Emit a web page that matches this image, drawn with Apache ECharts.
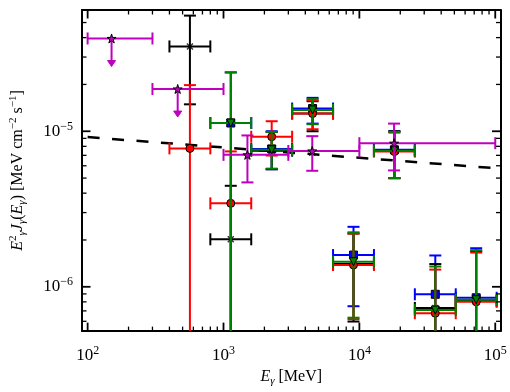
<!DOCTYPE html>
<html>
<head>
<meta charset="utf-8">
<script src="https://cdn.jsdelivr.net/npm/echarts@6/dist/echarts.min.js"></script>
<style>
  html, body { margin: 0; background: #fff; }
  #chart { width: 510px; height: 392px; }
</style>
</head>
<body>
<div id="chart"></div>
<script>
// energy bins (MeV) shared by the four coloured data sets
const binLo  = [400, 800, 1600, 3200, 6400, 12800, 25600, 51200];
const binHi  = [800, 1600, 3200, 6400, 12800, 25600, 51200, 102400];
const binMid = [566, 1131, 2263, 4525, 9051, 18102, 36204, 72408];

// E^2 J values, lower / upper ends of the error bars (0 = runs off the bottom)
const blackVal = [3.51e-5, 2.02e-6, 7.5e-6, 1.30e-5, 1.40e-6, 7.5e-6, 7.31e-7, 8.1e-7];
const blackLo  = [1.49e-5, 0, 5.7e-6, 1.0e-5, 5.98e-7, 5.0e-6, 0, 0];
const blackHi  = [5.54e-5, 4.46e-6, 9.9e-6, 1.56e-5, 2.2e-6, 1.0e-5, 1.40e-6, 1.69e-6];

const redVal = [7.76e-6, 3.44e-6, 9.22e-6, 1.30e-5, 1.38e-6, 7.4e-6, 6.76e-7, 8.0e-7];
const redLo  = [0, 0, 6.98e-6, 1.03e-5, 6.2e-7, 5.0e-6, 0, 0];
const redHi  = [1.98e-5, 7.42e-6, 1.16e-5, 1.58e-5, 2.2e-6, 9.8e-6, 1.29e-6, 1.66e-6];

const greenVal = [null, 1.13e-5, 7.6e-6, 1.37e-5, 1.45e-6, 7.5e-6, 7.08e-7, 8.26e-7];
const greenLo  = [0, 0, 5.75e-6, 1.11e-5, 6.33e-7, 5.0e-6, 0, 0];
const greenHi  = [0, 2.39e-5, 9.9e-6, 1.61e-5, 2.24e-6, 9.9e-6, 1.35e-6, 1.72e-6];

const blueVal = [null, 1.13e-5, 7.7e-6, 1.40e-5, 1.60e-6, 7.6e-6, 8.95e-7, 8.5e-7];
const blueLo  = [0, 0, 5.7e-6, 1.12e-5, 7.5e-7, 4.99e-6, 0, 0];
const blueHi  = [0, 2.39e-5, 1.0e-5, 1.64e-5, 2.43e-6, 1.0e-5, 1.59e-6, 1.77e-6];

// magenta points with their own binning, first two are upper limits
const magX   = [150, 460, 1500, 4500, 18000];
const magXLo = [100, 300, 1000, 3000, 10000];
const magXHi = [300, 1000, 3000, 10000, 100000];
const magVal = [3.95e-5, 1.87e-5, 7.05e-6, 7.47e-6, 8.38e-6];
const magLo  = [0, 0, 4.69e-6, 5.57e-6, 5.6e-6];
const magHi  = [0, 0, 9.4e-6, 9.3e-6, 1.12e-5];
const magUL  = [1, 1, 0, 0, 0];

// dashed power law
const fitX = [100, 100000];
const fitY = [9.17e-6, 5.79e-6];

// axes
const xMin = 90.9, xMax = 109300;
const yMin = 5.19e-7, yMax = 6.02e-5;
const xMajor = [100, 1000, 10000, 100000];
const yMajor = [1e-6, 1e-5];

const FONT = '"Liberation Serif", "DejaVu Serif", serif';
const CAP = 6;
const ARROW = 0.66;

function minorTicks(lo, hi) {
  const out = [];
  for (let e = Math.floor(Math.log10(lo)); e <= Math.ceil(Math.log10(hi)); e++) {
    for (let k = 2; k <= 9; k++) {
      const v = k * Math.pow(10, e);
      if (v > lo && v < hi) out.push(v);
    }
  }
  return out;
}
const xMinor = minorTicks(xMin, xMax);
const yMinor = minorTicks(yMin, yMax);

function powLabel(v) {
  const e = Math.log10(v);
  if (Math.abs(e - Math.round(e)) > 1e-6) return '';
  return '{b|10}{s|' + String(Math.round(e)).replace('-', '\u2212') + '}';
}

const labelRich = {
  b: { fontFamily: FONT, fontSize: 17, color: '#000', lineHeight: 21 },
  s: { fontFamily: FONT, fontSize: 12, color: '#000', lineHeight: 12, verticalAlign: 'top' }
};
const nameRich = {
  n: { fontFamily: FONT, fontSize: 16, color: '#000', lineHeight: 20 },
  i: { fontFamily: FONT, fontSize: 16, color: '#000', lineHeight: 20, fontStyle: 'italic' },
  s: { fontFamily: FONT, fontSize: 11, color: '#000', lineHeight: 11, verticalAlign: 'top' },
  u: { fontFamily: FONT, fontSize: 11, color: '#000', lineHeight: 11, verticalAlign: 'bottom', fontStyle: 'italic' }
};

function errBars(color, xs, xlo, xhi, ys, ylo, yhi, ul, z) {
  const data = [];
  for (let i = 0; i < xs.length; i++) {
    if (ys[i] == null) continue;
    data.push([xs[i], ys[i], xlo[i], xhi[i], ylo[i], yhi[i], ul ? ul[i] : 0]);
  }
  return {
    type: 'custom', z: z, clip: true, silent: true,
    encode: { x: 0, y: 1 },
    data: data,
    renderItem: function (params, api) {
      const cs = params.coordSys;
      const bottom = cs.y + cs.height;
      const x = api.value(0), y = api.value(1);
      const p = api.coord([x, y]);
      const xl = api.coord([api.value(2), y])[0];
      const xr = api.coord([api.value(3), y])[0];
      const st = { stroke: color, lineWidth: 2 };
      const ln = (x1, y1, x2, y2) => ({ type: 'line', shape: { x1, y1, x2, y2 }, style: st });
      const ch = [
        ln(xl, p[1], xr, p[1]),
        ln(xl, p[1] - CAP, xl, p[1] + CAP),
        ln(xr, p[1] - CAP, xr, p[1] + CAP)
      ];
      if (api.value(6)) {
        const ye = api.coord([x, y * ARROW])[1];
        ch.push(ln(p[0], p[1], p[0], ye - 5));
        ch.push({ type: 'polygon', shape: { points: [[p[0] - 4, ye - 6], [p[0] + 4, ye - 6], [p[0], ye]] },
                  style: { fill: color, stroke: color, lineWidth: 1 } });
      } else {
        const lo = api.value(4), hi = api.value(5);
        const yt = api.coord([x, hi])[1];
        const yb = lo > 0 ? api.coord([x, lo])[1] : bottom;
        ch.push(ln(p[0], yt, p[0], yb), ln(p[0] - CAP, yt, p[0] + CAP, yt));
        if (lo > 0) ch.push(ln(p[0] - CAP, yb, p[0] + CAP, yb));
      }
      return { type: 'group', children: ch };
    }
  };
}

function marks(color, xs, ys, symbol, size, z, extra) {
  const data = [];
  xs.forEach((x, i) => { if (ys[i] != null) data.push([x, ys[i]]); });
  return Object.assign({
    type: 'scatter', z: z, silent: true, symbol: symbol, symbolSize: size, data: data,
    itemStyle: { color: color, borderColor: '#000', borderWidth: 1, opacity: 1 }
  }, extra || {});
}

const STAR = 'path://M50,0L61,35L98,35L68,57L79,91L50,70L21,91L32,57L2,35L39,35Z';
const CROSS = 'path://M0,1.5L1.5,0L5,3.5L8.5,0L10,1.5L6.5,5L10,8.5L8.5,10L5,6.5L1.5,10L0,8.5L3.5,5Z';

const tickSeries = {
  type: 'custom', z: 20, silent: true, clip: false,
  data: [[1000, 1e-5]],
  renderItem: function (params, api) {
    const cs = params.coordSys;
    const L = cs.x, R = cs.x + cs.width, T = cs.y, B = cs.y + cs.height;
    const ch = [];
    const add = (v, len, w, isX) => {
      const st = { stroke: '#000', lineWidth: w };
      if (isX) {
        const px = api.coord([v, 1e-5])[0];
        ch.push({ type: 'line', shape: { x1: px, y1: B, x2: px, y2: B - len }, style: st });
        ch.push({ type: 'line', shape: { x1: px, y1: T, x2: px, y2: T + len }, style: st });
      } else {
        const py = api.coord([1000, v])[1];
        ch.push({ type: 'line', shape: { x1: L, y1: py, x2: L + len, y2: py }, style: st });
        ch.push({ type: 'line', shape: { x1: R, y1: py, x2: R - len, y2: py }, style: st });
      }
    };
    xMajor.forEach(v => add(v, 8.5, 1.8, true));
    xMinor.forEach(v => add(v, 4.5, 1.3, true));
    yMajor.forEach(v => add(v, 8.5, 1.8, false));
    yMinor.forEach(v => add(v, 4.5, 1.3, false));
    return { type: 'group', children: ch };
  }
};

const axisLine = { show: true, onZero: false, lineStyle: { color: '#000', width: 2 } };

const chart = echarts.init(document.getElementById('chart'), null, { renderer: 'canvas' });
chart.setOption({
  animation: false,
  backgroundColor: '#fff',
  grid: { left: 77, right: 9.5, top: 10, bottom: 51, containLabel: false },
  xAxis: [{
    type: 'log', logBase: 10, min: xMin, max: xMax, position: 'bottom',
    axisLine: axisLine, axisTick: { show: false }, splitLine: { show: false },
    axisLabel: { formatter: powLabel, rich: labelRich, margin: 14, showMinLabel: false, showMaxLabel: false },
    name: '{i|E}{u|γ}{n| [MeV]}', nameLocation: 'middle', nameGap: 35,
    nameTextStyle: { rich: nameRich }
  }, {
    type: 'log', logBase: 10, min: xMin, max: xMax, position: 'top',
    axisLine: axisLine, axisTick: { show: false }, splitLine: { show: false }, axisLabel: { show: false }
  }],
  yAxis: [{
    type: 'log', logBase: 10, min: yMin, max: yMax, position: 'left',
    axisLine: axisLine, axisTick: { show: false }, splitLine: { show: false },
    axisLabel: { formatter: powLabel, rich: labelRich, margin: 9, showMinLabel: false, showMaxLabel: false },
    name: '{i|E}{s|2}{u|γ}{i|J}{u|γ}{n|(}{i|E}{u|γ}{n|) [MeV cm}{s|\u22122}{n| s}{s|\u22121}{n|]}',
    nameLocation: 'middle', nameGap: 54,
    nameTextStyle: { rich: nameRich }
  }, {
    type: 'log', logBase: 10, min: yMin, max: yMax, position: 'right',
    axisLine: axisLine, axisTick: { show: false }, splitLine: { show: false }, axisLabel: { show: false }
  }],
  series: [
    {
      type: 'line', z: 2, silent: true, symbol: 'none',
      data: fitX.map((x, i) => [x, fitY[i]]),
      lineStyle: { color: '#000', width: 2.5, type: [12, 12.5] }
    },
    errBars('#0000ff', binMid, binLo, binHi, blueVal, blueLo, blueHi, null, 3),
    marks('#0000ff', binMid, blueVal, 'rect', 8, 4),
    errBars('#000000', binMid, binLo, binHi, blackVal, blackLo, blackHi, null, 5),
    marks('#000000', binMid, blackVal, CROSS, 7, 6, { itemStyle: { color: '#000', borderWidth: 0 } }),
    errBars('#ff0000', binMid, binLo, binHi, redVal, redLo, redHi, null, 7),
    marks('#ff0000', binMid, redVal, 'circle', 8, 8),
    errBars('#008000', binMid, binLo, binHi, greenVal, greenLo, greenHi, null, 9),
    marks('#008000', binMid, greenVal, 'triangle', 8, 10, { symbolRotate: 180 }),
    errBars('#bf00bf', magX, magXLo, magXHi, magVal, magLo, magHi, magUL, 11),
    marks('#bf00bf', magX, magVal, STAR, 9, 12),
    tickSeries
  ]
});
</script>
</body>
</html>
